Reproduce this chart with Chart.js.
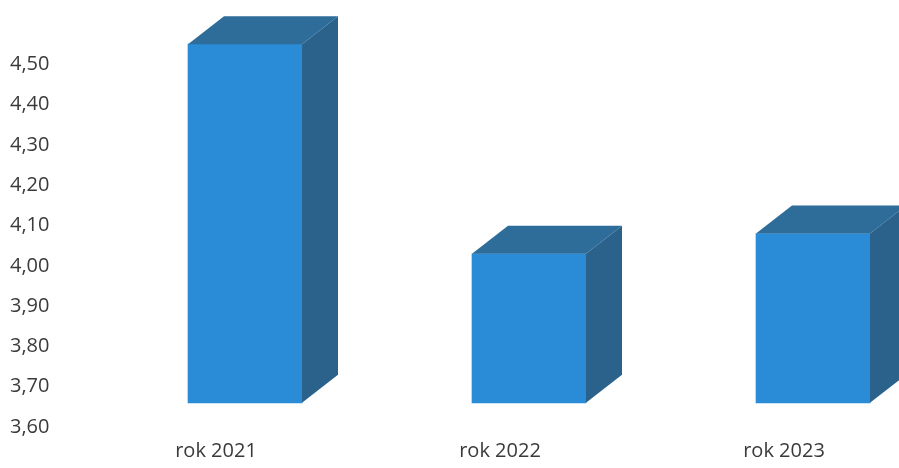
<!DOCTYPE html>
<html>
<head>
<meta charset="utf-8">
<script src="https://cdn.jsdelivr.net/npm/chart.js@4.4.0/dist/chart.umd.min.js"></script>
<style>
  html, body { margin: 0; padding: 0; background: #fff; }
  #chart { display: block; }
</style>
</head>
<body>
<canvas id="chart" width="899" height="468"></canvas>
<script>
// dane
const categories = ['rok 2021', 'rok 2022', 'rok 2023'];
const values = [4.55, 4.03, 4.08];
const baseValue = 3.66;
const yTicks = [3.6, 3.7, 3.8, 3.9, 4.0, 4.1, 4.2, 4.3, 4.4, 4.5];

const frontColor = '#2a8cd6';
const topColor = '#2e6c9a';
const sideColor = '#2a628c';

// efekt 3D: gorna i boczna sciana kazdego slupka
const bars3d = {
  id: 'bars3d',
  afterDatasetsDraw(chart) {
    const ctx = chart.ctx;
    const dx = 36, dy = -28;
    chart.getDatasetMeta(0).data.forEach(bar => {
      const { x, y, base, width } = bar.getProps(['x', 'y', 'base', 'width'], true);
      const l = x - width / 2, r = x + width / 2;
      ctx.save();
      ctx.fillStyle = topColor;
      ctx.beginPath();
      ctx.moveTo(l, y); ctx.lineTo(l + dx, y + dy); ctx.lineTo(r + dx, y + dy); ctx.lineTo(r, y);
      ctx.closePath(); ctx.fill();
      ctx.fillStyle = sideColor;
      ctx.beginPath();
      ctx.moveTo(r, y); ctx.lineTo(r + dx, y + dy); ctx.lineTo(r + dx, base + dy); ctx.lineTo(r, base);
      ctx.closePath(); ctx.fill();
      ctx.restore();
    });
  }
};

const font = { family: '"Open Sans", "Noto Sans", sans-serif', size: 20 };

new Chart(document.getElementById('chart'), {
  type: 'bar',
  data: {
    datasets: [{
      data: categories.map((c, i) => ({ x: i, y: values[i] })),
      base: baseValue,
      backgroundColor: frontColor,
      borderWidth: 0,
      barThickness: 114,
      clip: false
    }]
  },
  options: {
    responsive: false,
    animation: false,
    layout: { padding: { top: 24, left: 10, right: 0, bottom: 4 } },
    plugins: { legend: { display: false }, tooltip: { enabled: false } },
    scales: {
      x: {
        type: 'linear',
        offset: false,
        min: -0.5458,
        max: 2.3028,
        grid: { display: false },
        border: { display: false },
        afterFit: s => { s.height = 37; },
        afterBuildTicks: s => { s.ticks = categories.map((c, i) => ({ value: i })); },
        ticks: {
          font, color: '#3a3a3a', padding: 4, labelOffset: -29, maxRotation: 0,
          callback: v => categories[v]
        }
      },
      y: {
        min: 3.6,
        max: 4.6,
        grid: { display: false },
        border: { display: false },
        afterFit: s => { s.width = 80; },
        afterBuildTicks: s => { s.ticks = yTicks.map(v => ({ value: v })); },
        ticks: {
          font, color: '#3a3a3a', crossAlign: 'far',
          callback: v => v.toFixed(2).replace('.', ',')
        }
      }
    }
  },
  plugins: [bars3d]
});
</script>
</body>
</html>
